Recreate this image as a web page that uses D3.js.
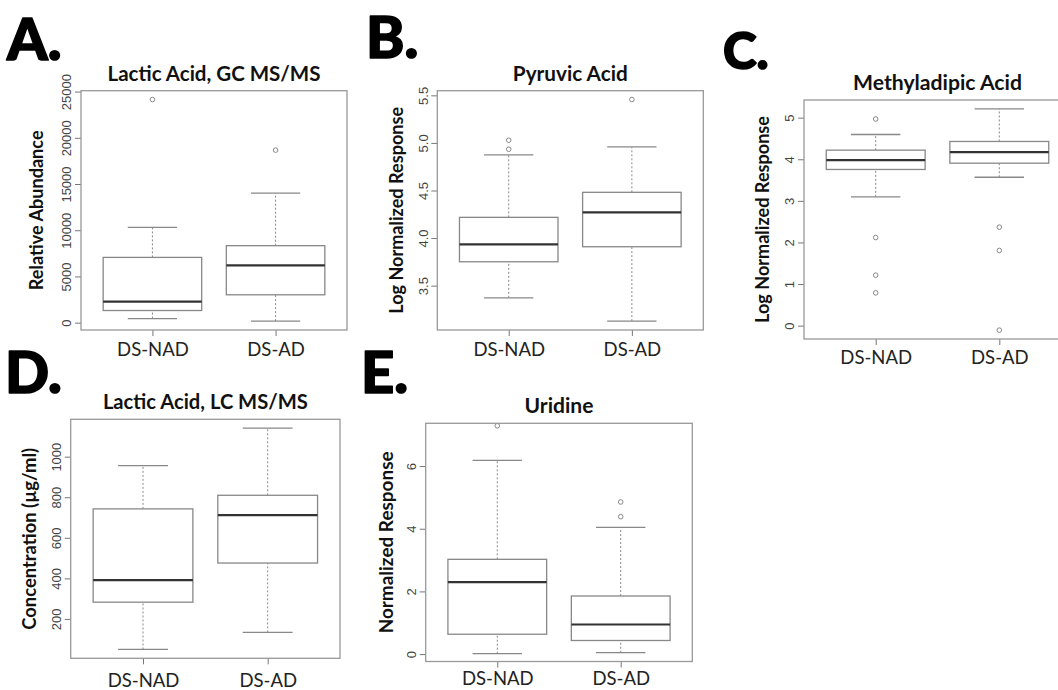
<!DOCTYPE html>
<meta charset="utf-8">
<style>
    body { margin: 0; background: #fff; }
    svg { display: block; }
</style>
<svg width="1058" height="690"></svg>
<script src="https://d3js.org/d3.v7.min.js"></script>
<script>
    // groups on the x axis of every panel
    const groups = ["DS-NAD", "DS-AD"]

    // five-number summaries per group: [lower whisker, Q1, median, Q3, upper whisker]
    const lacticGcStats = [[500, 1370, 2340, 7115, 10370], [220, 3070, 6250, 8385, 14060]]
    const lacticGcOutliers = [[24190], [18720]]
    const lacticGcTicks = [0, 5000, 10000, 15000, 20000, 25000]

    const pyruvicStats = [[3.377, 3.756, 3.939, 4.223, 4.879], [3.132, 3.914, 4.276, 4.486, 4.963]]
    const pyruvicOutliers = [[4.939, 5.034], [5.461]]
    const pyruvicTicks = [3.5, 4.0, 4.5, 5.0, 5.5]

    const methylStats = [[3.108, 3.767, 3.99, 4.231, 4.608], [3.58, 3.918, 4.183, 4.44, 5.224]]
    const methylOutliers = [[4.98, 2.13, 1.226, 0.80], [2.38, 1.82, -0.096]]
    const methylTicks = [0, 1, 2, 3, 4, 5]

    const lacticLcStats = [[52, 285, 394, 745, 958], [136, 478, 714, 812, 1143]]
    const lacticLcOutliers = [[], []]
    const lacticLcTicks = [200, 400, 600, 800, 1000]

    const uridineStats = [[0.03, 0.65, 2.31, 3.04, 6.20], [0.06, 0.45, 0.96, 1.87, 4.06]]
    const uridineOutliers = [[7.30], [4.40, 4.87]]
    const uridineTicks = [0, 2, 4, 6]

    var svg = d3.select("svg")
    svg.append("rect").attr("width", 1058).attr("height", 690).attr("fill", "#fff")

    const FONT = "Lato, 'Open Sans', sans-serif"

    // tw / yw: widths the title and y label take up in the figure
    const panels = [
        {letter: "A.", lx: 7, ly: 60, ls: 58, title: "Lactic Acid, GC MS/MS", ylab: "Relative Abundance",
         stats: lacticGcStats, outliers: lacticGcOutliers, ticks: lacticGcTicks, fmt: d3.format("d"),
         l: 81, r: 347, t: 90.7, b: 330, titleY: 81, tw: 213, yw: 160, yx: 37, xlab: 13},
        {letter: "B.", lx: 366, ly: 58, ls: 58, title: "Pyruvic Acid", ylab: "Log Normalized Response",
         stats: pyruvicStats, outliers: pyruvicOutliers, ticks: pyruvicTicks, fmt: d3.format(".1f"),
         l: 437.3, r: 703.3, t: 90.7, b: 330, titleY: 81, tw: 115, yw: 207, yx: 397, xlab: 13},
        {letter: "C.", lx: 723, ly: 69, ls: 51, title: "Methyladipic Acid", ylab: "Log Normalized Response",
         stats: methylStats, outliers: methylOutliers, ticks: methylTicks, fmt: d3.format("d"),
         l: 804, r: 1071, t: 100, b: 339, titleY: 90, tw: 169, yw: 207, yx: 763, xlab: 12},
        {letter: "D.", lx: 5, ly: 393, ls: 58, title: "Lactic Acid, LC MS/MS", ylab: "Concentration (µg/ml)",
         stats: lacticLcStats, outliers: lacticLcOutliers, ticks: lacticLcTicks, fmt: d3.format("d"),
         l: 70.7, r: 340, t: 419.3, b: 658.3, titleY: 409, tw: 205, yw: 182, yx: 30, xlab: 16},
        {letter: "E.", lx: 361, ly: 393, ls: 58, title: "Uridine", ylab: "Normalized Response",
         stats: uridineStats, outliers: uridineOutliers, ticks: uridineTicks, fmt: d3.format("d"),
         l: 425.7, r: 692.3, t: 423.3, b: 661.5, titleY: 413, tw: 69, yw: 182, yx: 387, xlab: 10,
         yDomain: [-0.22, 7.38]}
    ]

    panels.forEach(drawPanel)

    // scale a text's font so its length comes to w
    function fitText(sel, base, w) {
        var len = sel.node().getComputedTextLength()
        sel.attr("font-size", base * w / len)
    }

    function drawPanel(p) {
        var g = svg.append("g")

        // R style range: data extent padded by 4%
        var all = p.stats.flat().concat(p.outliers.flat())
        var lo = d3.min(all), hi = d3.max(all), pad = (hi - lo) * 0.04
        var y = d3.scaleLinear().domain(p.yDomain || [lo - pad, hi + pad]).range([p.b, p.t])
        var x = d3.scalePoint().domain(groups).range([p.l, p.r]).padding(0.58)
        var bw = x.step() * 0.8

        // panel letter, heavy
        svg.append("text").attr("x", p.lx).attr("y", p.ly)
            .attr("font-family", FONT).attr("font-weight", 900)
            .attr("font-size", p.ls).attr("fill", "#000")
            .attr("stroke", "#000").attr("stroke-width", 1.6).attr("stroke-linejoin", "round")
            .text(p.letter)

        // title
        var t = g.append("text").attr("x", (p.l + p.r) / 2).attr("y", p.titleY)
            .attr("text-anchor", "middle").attr("font-family", FONT)
            .attr("font-weight", 700).attr("font-size", 20).attr("fill", "#111").text(p.title)
        fitText(t, 20, p.tw)

        // y label
        var cy = (p.t + p.b) / 2
        var yl = g.append("text").attr("transform", "translate(" + (p.yx + 6) + "," + cy + ") rotate(-90)")
            .attr("text-anchor", "middle").attr("font-family", FONT)
            .attr("font-weight", 700).attr("font-size", 17).attr("fill", "#111").text(p.ylab)
        fitText(yl, 17, p.yw)

        // y axis, labels turned to run along the axis as in R
        var yAxis = g.append("g").attr("transform", "translate(" + p.l + ",0)")
            .call(d3.axisLeft(y).tickValues(p.ticks).tickFormat(p.fmt).tickSize(6).tickSizeOuter(0))
        yAxis.select(".domain").remove()
        yAxis.selectAll(".tick").attr("transform", null)
        yAxis.selectAll(".tick line").attr("stroke", "#777")
            .attr("y1", function(d) { return y(d) }).attr("y2", function(d) { return y(d) })
        yAxis.selectAll("text")
            .attr("font-family", "'Liberation Sans', Arial, sans-serif").attr("font-size", 13)
            .attr("fill", "#444").attr("text-anchor", "middle")
            .attr("transform", function(d) { return "rotate(-90," + (-14) + "," + y(d) + ")" })
            .attr("x", -14).attr("dy", null).attr("y", function(d) { return y(d) + 4.5 })

        // x axis
        var xAxis = g.append("g").attr("transform", "translate(0," + p.b + ")")
            .call(d3.axisBottom(x).tickSize(6).tickSizeOuter(0))
        xAxis.select(".domain").remove()
        xAxis.selectAll("line").attr("stroke", "#777")
        xAxis.selectAll("text").attr("font-family", FONT)
            .attr("font-size", 18.5).attr("fill", "#222").attr("y", p.xlab)

        // boxes
        var box = g.selectAll(".bx").data(p.stats).enter().append("g")
            .attr("transform", function(d, i) { return "translate(" + x(groups[i]) + ",0)" })

        box.append("line").attr("y1", function(d) { return y(d[0]) }).attr("y2", function(d) { return y(d[1]) })
            .attr("stroke", "#888").attr("stroke-dasharray", "2,2")
        box.append("line").attr("y1", function(d) { return y(d[3]) }).attr("y2", function(d) { return y(d[4]) })
            .attr("stroke", "#888").attr("stroke-dasharray", "2,2")
        box.append("line").attr("x1", -bw / 4).attr("x2", bw / 4)
            .attr("y1", function(d) { return y(d[0]) }).attr("y2", function(d) { return y(d[0]) })
            .attr("stroke", "#888").attr("stroke-width", 1.3)
        box.append("line").attr("x1", -bw / 4).attr("x2", bw / 4)
            .attr("y1", function(d) { return y(d[4]) }).attr("y2", function(d) { return y(d[4]) })
            .attr("stroke", "#888").attr("stroke-width", 1.3)
        box.append("rect").attr("x", -bw / 2).attr("width", bw)
            .attr("y", function(d) { return y(d[3]) }).attr("height", function(d) { return y(d[1]) - y(d[3]) })
            .attr("fill", "#fff").attr("stroke", "#888").attr("stroke-width", 1.3)
        box.append("line").attr("x1", -bw / 2).attr("x2", bw / 2)
            .attr("y1", function(d) { return y(d[2]) }).attr("y2", function(d) { return y(d[2]) })
            .attr("stroke", "#333").attr("stroke-width", 2.2)

        // outliers
        p.outliers.forEach(function(vals, i) {
            g.selectAll(null).data(vals).enter().append("circle")
                .attr("cx", x(groups[i])).attr("cy", function(d) { return y(d) }).attr("r", 2.3)
                .attr("fill", "none").attr("stroke", "#888").attr("stroke-width", 1)
        })

        // frame
        g.append("rect").attr("x", p.l).attr("y", p.t).attr("width", p.r - p.l).attr("height", p.b - p.t)
            .attr("fill", "none").attr("stroke", "#999").attr("stroke-width", 1.3)
    }
</script>
